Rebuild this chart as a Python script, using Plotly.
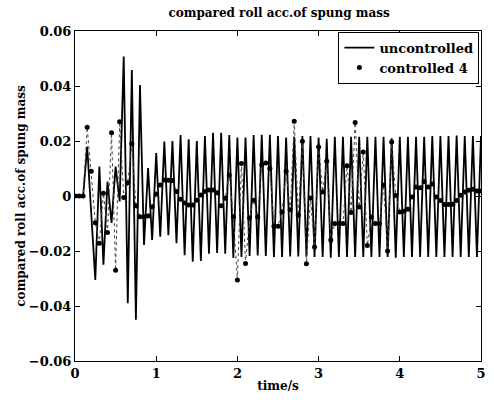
import plotly.graph_objects as go

# sample times (s), step 0.05
time_s = [round(i * 0.05, 2) for i in range(101)]

uncontrolled = [
    0.0, 0.0, 0.0, 0.018, -0.006, -0.0305, 0.0107, -0.025, 0.0052, -0.0098,
    0.0107, -0.002, 0.0507, -0.039, 0.0458, -0.045, 0.0404, -0.0178, 0.0102, -0.016,
    0.0156, -0.0148, 0.0198, -0.0143, 0.0200, -0.0172, 0.0222, -0.0215, 0.0206, -0.0239,
    0.0200, -0.0236, 0.0218, -0.0210, 0.0230, -0.0207, 0.0230, -0.0210, 0.0222, -0.0225,
    0.0213, -0.0222, 0.0213, -0.0218, 0.0222, -0.0216, 0.0223, -0.0218, 0.0223, -0.0222,
    0.0218, -0.0222, 0.0213, -0.0220, 0.0215, -0.0220, 0.0218, -0.0220, 0.0218, -0.0222,
    0.0213, -0.0222, 0.0208, -0.0224, 0.0215, -0.0222, 0.0215, -0.0222, 0.0215, -0.0222,
    0.0215, -0.0222, 0.0215, -0.0222, 0.0215, -0.0222, 0.0215, -0.0222, 0.0210, -0.0224,
    0.0215, -0.0222, 0.0215, -0.0222, 0.0215, -0.0222, 0.0215, -0.0222, 0.0218, -0.0222,
    0.0218, -0.0222, 0.0218, -0.0222, 0.0220, -0.0222, 0.0218, -0.0222, 0.0218, -0.0222,
    0.0218,
]

controlled_4 = [
    0.0, 0.0, 0.0, 0.025, 0.009, -0.0097, -0.0172, 0.001, -0.0133, 0.023,
    -0.027, 0.027, -0.0005, 0.0048, 0.019, -0.0035, -0.0075, -0.0075, -0.0073, -0.0039,
    0.0007, 0.0040, 0.0058, 0.0057, 0.0056, 0.0016, -0.0012, -0.0025, -0.0033, -0.0033,
    -0.0015, 0.0004, 0.0016, 0.0022, 0.0022, 0.0012, -0.0035, -0.0008, 0.0076, -0.0075,
    -0.0305, 0.0118, -0.0245, -0.0080, -0.0015, -0.0076, 0.0114, 0.0120, 0.0100, -0.0110,
    -0.0110, -0.0058, 0.0090, -0.0050, 0.0272, -0.0070, 0.0199, -0.0246, -0.0007, -0.0185,
    0.0178, 0.0015, 0.0126, -0.0160, -0.0100, -0.0100, -0.0100, 0.0110, -0.0060, 0.0267,
    -0.0040, 0.0160, -0.0180, -0.0076, -0.0100, -0.0100, 0.0040, -0.0200, 0.0196, 0.0002,
    -0.0058, -0.0055, -0.0048, -0.0004, 0.0033, 0.0030, 0.0053, 0.0033, 0.0044, -0.0004,
    -0.0016, -0.0031, -0.0031, -0.0030, -0.0016, 0.0003, 0.0015, 0.0021, 0.0025, 0.0018,
    0.0018,
]

x_ticks = [0, 1, 2, 3, 4, 5]
y_ticks = [-0.06, -0.04, -0.02, 0, 0.02, 0.04, 0.06]
y_tick_labels = ["\u22120.06", "\u22120.04", "\u22120.02", "0", "0.02", "0.04", "0.06"]

FONT = "DejaVu Serif"

fig = go.Figure()
fig.add_trace(go.Scatter(
    x=time_s, y=uncontrolled, mode="lines", name="uncontrolled",
    line=dict(color="black", width=1.8),
))
fig.add_trace(go.Scatter(
    x=time_s, y=controlled_4, mode="lines", showlegend=False,
    line=dict(color="#444444", width=1, dash="dot"),
))
fig.add_trace(go.Scatter(
    x=time_s, y=controlled_4, mode="markers", name="controlled 4",
    marker=dict(color="black", size=5, symbol="circle"),
))

axis_common = dict(
    showline=True, linecolor="black", linewidth=1, mirror="ticks",
    ticks="inside", ticklen=5, tickcolor="black", showgrid=False, zeroline=False,
    ticklabeloverflow="allow",
    tickfont=dict(family=FONT, size=13, color="black", weight="bold"),
)

fig.update_layout(
    width=494, height=400,
    margin=dict(l=75, r=8, t=31, b=39),
    paper_bgcolor="white", plot_bgcolor="white",
    title=dict(
        text="compared roll acc.of spung mass",
        font=dict(family=FONT, size=12, color="black", weight="bold"),
        x=0.565, xanchor="center", y=0.968, yanchor="middle",
    ),
    xaxis=dict(
        range=[0, 5], tickvals=x_ticks,
        title=dict(text="time/s", font=dict(family=FONT, size=12, color="black", weight="bold"), standoff=2),
        **axis_common,
    ),
    yaxis=dict(
        range=[-0.06, 0.06], tickvals=y_ticks, ticktext=y_tick_labels,
        title=dict(text="compared roll acc.of spung mass",
                   font=dict(family=FONT, size=12, color="black", weight="bold"), standoff=0),
        **axis_common,
    ),
    legend=dict(
        x=0.996, xanchor="right", y=0.998, yanchor="top",
        bgcolor="white", bordercolor="black", borderwidth=1,
        font=dict(family=FONT, size=13, color="black", weight="bold"),
        tracegroupgap=0,
    ),
    showlegend=True,
)

fig.write_html(
    "out.html",
    config={"displayModeBar": False},
    post_script="document.body.style.margin='0';document.body.style.overflow='hidden';",
)
